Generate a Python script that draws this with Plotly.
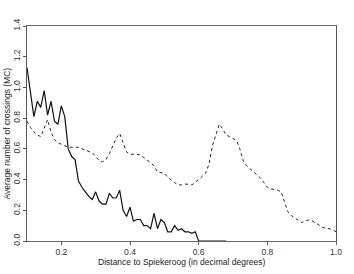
import plotly.graph_objects as go

# Distance to Spiekeroog (decimal degrees)
x_solid = [round(0.10 + 0.01 * i, 2) for i in range(59)]  # 0.10 .. 0.68
mc_solid = [1.13, 0.97, 0.81, 0.91, 0.87, 0.98, 0.82, 0.91, 0.78, 0.76,
            0.88, 0.81, 0.60, 0.55, 0.53, 0.39, 0.35, 0.32, 0.29, 0.27,
            0.32, 0.26, 0.24, 0.24, 0.31, 0.28, 0.28, 0.33, 0.20, 0.16,
            0.22, 0.13, 0.14, 0.14, 0.10, 0.10, 0.08, 0.18, 0.08, 0.14,
            0.12, 0.06, 0.06, 0.10, 0.07, 0.08, 0.06, 0.06, 0.05, 0.06,
            0.00, 0.00, 0.00, 0.00, 0.00, 0.00, 0.00, 0.00, 0.00]

x_dashed = [round(0.10 + 0.01 * i, 2) for i in range(91)]  # 0.10 .. 1.00
mc_dashed = [0.78, 0.74, 0.71, 0.69, 0.68, 0.73, 0.79, 0.71, 0.66, 0.64,
             0.63, 0.62, 0.61, 0.61, 0.61, 0.61, 0.60, 0.59, 0.585, 0.575,
             0.55, 0.525, 0.515, 0.53, 0.57, 0.62, 0.67, 0.70, 0.64, 0.58,
             0.565, 0.565, 0.565, 0.56, 0.545, 0.525, 0.51, 0.49, 0.45, 0.445,
             0.44, 0.415, 0.395, 0.38, 0.366, 0.365, 0.37, 0.37, 0.365, 0.38,
             0.40, 0.42, 0.44, 0.50, 0.62, 0.69, 0.76, 0.73, 0.69, 0.68,
             0.67, 0.655, 0.60, 0.52, 0.49, 0.47, 0.455, 0.43, 0.41, 0.38,
             0.35, 0.34, 0.335, 0.33, 0.32, 0.25, 0.19, 0.165, 0.15, 0.135,
             0.12, 0.13, 0.137, 0.132, 0.12, 0.105, 0.09, 0.082, 0.08, 0.075,
             0.06]

x_ticks = [0.2, 0.4, 0.6, 0.8, 1.0]
x_tick_labels = ["0.2", "0.4", "0.6", "0.8", "1.0"]
y_ticks = [0.0, 0.2, 0.4, 0.6, 0.8, 1.0, 1.2, 1.4]
y_tick_labels = ["0.0", "0.2", "0.4", "0.6", "0.8", "1.0", "1.2", "1.4"]

x_title = "Distance to Spiekeroog (in decimal degrees)"
y_title = "Average number of crossings (MC)"

fig = go.Figure()
fig.add_trace(go.Scatter(x=x_dashed, y=mc_dashed, mode="lines",
                         line=dict(color="#222222", width=1, dash="3px,3px"),
                         showlegend=False))
fig.add_trace(go.Scatter(x=x_solid, y=mc_solid, mode="lines",
                         line=dict(color="#111111", width=1.2),
                         showlegend=False))

font_family = "Liberation Sans, Arial, sans-serif"
fig.update_layout(
    width=354, height=274,
    margin=dict(l=26, r=13, t=26, b=33, pad=0),
    paper_bgcolor="white", plot_bgcolor="white",
    font=dict(family=font_family, size=8, color="#333333"),
    xaxis=dict(range=[0.1, 1.0], tickvals=x_ticks, ticktext=x_tick_labels,
               showgrid=False, zeroline=False, showline=True, linecolor="#666666",
               linewidth=1, mirror=True, ticks="outside", ticklen=3,
               tickcolor="#666666", tickfont=dict(size=8.5)),
    yaxis=dict(range=[0.0, 1.4], tickvals=y_ticks, ticktext=y_tick_labels,
               showgrid=False, zeroline=False, showline=True, linecolor="#555555",
               linewidth=1, mirror=True, ticks="outside", ticklen=3,
               tickcolor="#555555", tickangle=-90, tickfont=dict(size=8.5)),
    annotations=[
        dict(text=x_title, xref="paper", yref="paper", x=0.5, y=0, yshift=-21,
             showarrow=False, xanchor="center", yanchor="middle",
             font=dict(size=8.5, color="#222222")),
        dict(text=y_title, xref="paper", yref="paper", x=0, y=0.5, xshift=-21,
             showarrow=False, xanchor="center", yanchor="middle", textangle=-90,
             font=dict(size=8.5, color="#222222")),
    ],
)

fig.write_html("out.html",
               config={"displayModeBar": False},
               post_script="document.body.style.margin='0';document.body.style.padding='0';")
